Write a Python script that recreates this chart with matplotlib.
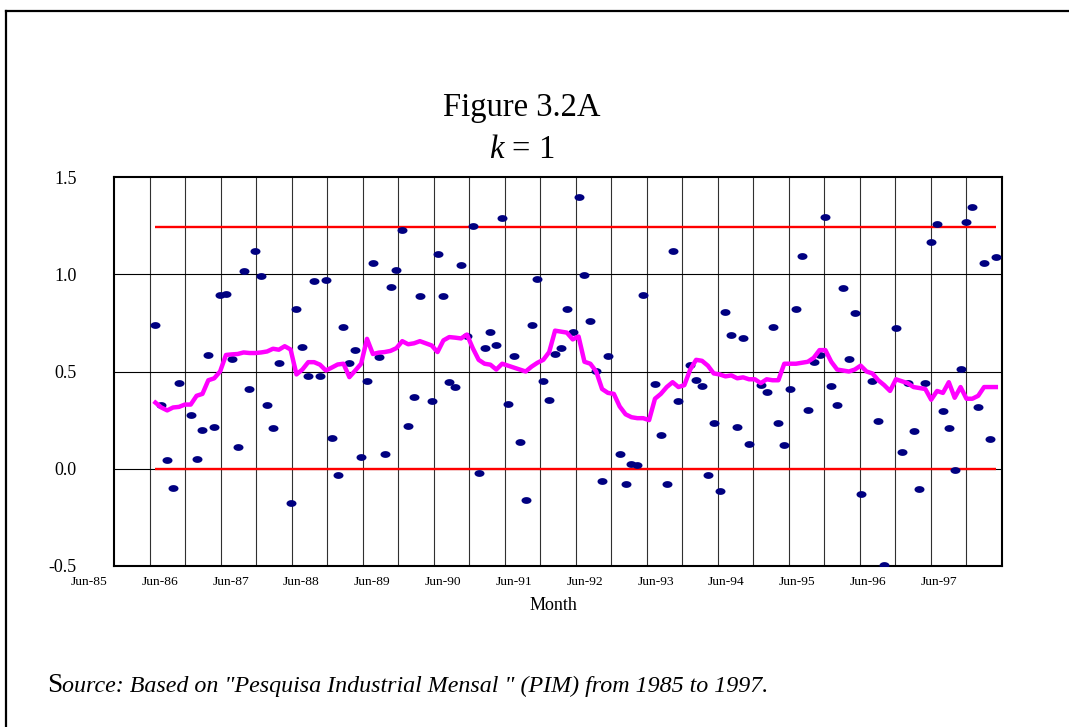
import numpy as np
import matplotlib
matplotlib.use('Agg')
import matplotlib.pyplot as plt
from matplotlib.path import Path
from matplotlib.lines import Line2D

# monthly index of the first plotted observation
FIRST_MONTH = 7

# observed values (nan = point hidden under the moving line)
nan = np.nan
OBS = [
    0.737, 0.326, 0.043, -0.099, 0.442, nan, 0.274, 0.051, 0.200, 0.583,
    0.214, 0.895, 0.896, 0.562, 0.110, 1.015, 0.408, 1.121, 0.989, 0.326,
    0.211, 0.545, nan, -0.178, 0.821, 0.625, 0.478, 0.966, 0.476, 0.971,
    0.156, -0.033, 0.730, 0.543, 0.612, 0.058, 0.450, 1.060, 0.574, 0.077,
    0.936, 1.024, 1.230, 0.218, 0.371, 0.887, nan, 0.350, 1.106, 0.887,
    0.448, 0.418, 1.048, 0.682, 1.247, -0.021, 0.620, 0.704, 0.634, 1.287,
    0.333, 0.582, 0.136, -0.163, 0.741, 0.978, 0.450, 0.351, 0.589, 0.619,
    0.823, 0.704, 1.397, 0.998, 0.759, 0.505, -0.062, 0.582, nan, 0.076,
    -0.077, 0.022, 0.021, 0.893, nan, 0.436, 0.176, -0.080, 1.122, 0.347,
    nan, 0.531, 0.457, 0.423, -0.033, 0.237, -0.115, 0.804, 0.689, 0.216,
    0.670, 0.125, nan, 0.431, 0.397, 0.730, 0.237, 0.120, 0.409, 0.823,
    1.094, 0.301, 0.548, 0.586, 1.296, 0.423, 0.330, 0.928, 0.564, 0.799,
    -0.129, nan, 0.450, 0.244, -0.493, nan, 0.725, 0.084, 0.442, 0.194,
    -0.103, 0.442, 1.165, 1.256, 0.296, 0.208, -0.007, 0.512, 1.268, 1.347,
    0.318, 1.057, 0.153, 1.091,
]

# moving line (magenta)
AVG = [
    0.340, 0.315, 0.300, 0.315, 0.318, 0.330, 0.330, 0.375, 0.385, 0.455,
    0.465, 0.500, 0.585, 0.588, 0.590, 0.598, 0.595, 0.595, 0.598, 0.603,
    0.617, 0.612, 0.630, 0.613, 0.485, 0.510, 0.548, 0.548, 0.535, 0.505,
    0.520, 0.536, 0.540, 0.471, 0.505, 0.540, 0.668, 0.590, 0.597, 0.600,
    0.606, 0.620, 0.656, 0.640, 0.645, 0.656, 0.645, 0.634, 0.600, 0.660,
    0.677, 0.674, 0.670, 0.690, 0.620, 0.560, 0.540, 0.535, 0.510, 0.540,
    0.530, 0.520, 0.510, 0.500, 0.525, 0.545, 0.560, 0.600, 0.710, 0.705,
    0.700, 0.665, 0.680, 0.550, 0.540, 0.500, 0.410, 0.390, 0.385, 0.320,
    0.280, 0.265, 0.260, 0.260, 0.250, 0.360, 0.385, 0.420, 0.445, 0.420,
    0.430, 0.510, 0.560, 0.555, 0.530, 0.490, 0.485, 0.475, 0.480, 0.465,
    0.470, 0.460, 0.460, 0.440, 0.460, 0.455, 0.455, 0.540, 0.540, 0.540,
    0.545, 0.550, 0.570, 0.610, 0.610, 0.550, 0.510, 0.505, 0.500, 0.510,
    0.530, 0.500, 0.490, 0.455, 0.430, 0.400, 0.460, 0.450, 0.440, 0.420,
    0.415, 0.410, 0.355, 0.400, 0.390, 0.445, 0.365, 0.420, 0.360, 0.360,
    0.375, 0.420, 0.420, 0.420,
]

UPPER = 1.244
LOWER = 0.0

XLABELS = ["Jun-85", "Jun-86", "Jun-87", "Jun-88", "Jun-89", "Jun-90", "Jun-91",
           "Jun-92", "Jun-93", "Jun-94", "Jun-95", "Jun-96", "Jun-97"]
YTICKS = [-0.5, 0.0, 0.5, 1.0, 1.5]
YLABELS = ["-0.5", "0.0", "0.5", "1.0", "1.5"]

NAVY = "#000080"
MAGENTA = "#FF00FF"
RED = "#FF0000"

W, H = 1069, 727
N_MONTHS = 151

plt.rcParams['font.family'] = ['Liberation Serif', 'DejaVu Serif']
plt.rcParams['mathtext.fontset'] = 'custom'
plt.rcParams['mathtext.rm'] = 'Liberation Serif'
plt.rcParams['mathtext.it'] = 'Liberation Serif:italic'

months = np.arange(FIRST_MONTH, FIRST_MONTH + len(OBS))

fig = plt.figure(figsize=(W / 100, H / 100), dpi=100)
fig.patch.set_facecolor("white")
ax = fig.add_axes([114.3 / W, 1 - 566 / H, 887.4 / W, 389 / H])

# grid
for k in range(1, 25):
    ax.axvline(N_MONTHS * k / 25, color="#303030", lw=0.8, zorder=1)
for v in (0.0, 0.5, 1.0):
    ax.axhline(v, color="black", lw=0.8, zorder=1)

# control lines
ax.hlines([UPPER, LOWER], months[0], months[-1], colors=RED, lw=1.7, zorder=2)

# elliptical dots
theta = np.linspace(0, 2 * np.pi, 41)
ell = Path(np.column_stack([np.cos(theta), 0.68 * np.sin(theta)]), closed=True)
ax.plot(months, OBS, linestyle="none", marker=ell, ms=7.2, mew=0,
        color=NAVY, zorder=3)

ax.plot(months, AVG, color=MAGENTA, lw=3.2, zorder=4)

ax.set_xlim(0, N_MONTHS)
ax.set_ylim(-0.5, 1.5)
ax.set_yticks(YTICKS)
ax.set_yticklabels(YLABELS)
ax.set_xticks([])
ax.tick_params(axis="y", length=0, pad=27, labelsize=13)
for spine in ax.spines.values():
    spine.set_linewidth(1.5)
    spine.set_color("black")

# month labels (Excel puts them off the category ticks)
for k, lab in enumerate(XLABELS):
    ax.text(-4.3 + 12.05 * k, -0.041, lab, transform=ax.get_xaxis_transform(),
            ha="center", va="center", fontsize=9.7, clip_on=False)

fig.text(553 / W, 1 - 606 / H, "Month", ha="center", va="center", fontsize=13)

fig.text(522 / W, 1 - 108 / H, "Figure 3.2A", ha="center", va="center", fontsize=23.5)
fig.text(522 / W, 1 - 150 / H, r"$k$ = 1", ha="center", va="center", fontsize=23.5)

# source line: upright S followed by italic text
renderer = fig.canvas.get_renderer()
s = fig.text(47 / W, 1 - 692 / H, "S", fontsize=19.5, va="baseline")
sw = s.get_window_extent(renderer).width
fig.text((47 + sw) / W, 1 - 692 / H,
         'ource: Based on "Pesquisa Industrial Mensal " (PIM) from 1985 to 1997.',
         fontsize=17.3, style="italic", va="baseline")

# outer frame
fig.add_artist(Line2D([5.5 / W, 5.5 / W], [0, 1 - 10.5 / H],
                      transform=fig.transFigure, color="black", lw=1.6))
fig.add_artist(Line2D([5.5 / W, 1], [1 - 10.5 / H, 1 - 10.5 / H],
                      transform=fig.transFigure, color="black", lw=1.6))

fig.savefig("out.png", dpi=100)
